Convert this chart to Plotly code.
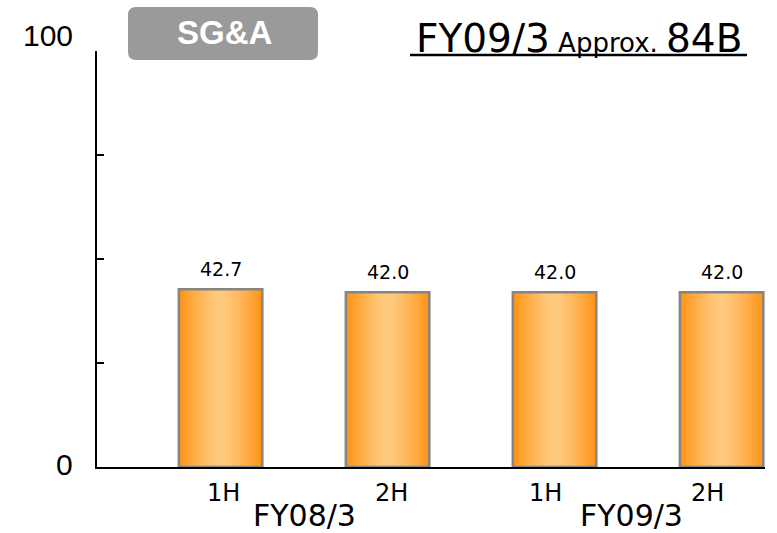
import plotly.graph_objects as go

# ---- data ----
categories = ["1H", "2H", "1H", "2H"]
values = [42.7, 42.0, 42.0, 42.0]
value_labels = ["42.7", "42.0", "42.0", "42.0"]
groups = ["FY08/3", "FY09/3"]
group_members = [[0, 1], [2, 3]]
y_tick_vals = [0, 25, 50, 75, 100]
y_tick_labels = {0: "0", 100: "100"}
box_title = "SG&A"
headline_parts = ["FY09/3", " Approx. ", "84B"]

# ---- layout constants (pixels) ----
W, H = 777, 533
L, R, T, B = 97, 12, 51, 66
PW, PH = W - L - R, H - T - B


def px_x(px):
    return (px - L) / PW


def px_y(py):
    return (H - B - py) / PH


x = list(range(len(values)))
fig = go.Figure()

# gradient bars built from overlaid layers of decreasing width
edge = (255, 148, 22)
center = (255, 203, 128)
N = 18
for k in range(N):
    d = 1 - k / N
    t = d ** 1.4
    c = tuple(round(center[i] + (edge[i] - center[i]) * t) for i in range(3))
    fig.add_trace(go.Bar(
        x=x, y=values, width=0.5 * d,
        marker=dict(color="rgb(%d,%d,%d)" % c, line=dict(width=0)),
        hoverinfo="skip", showlegend=False,
    ))
# outline
fig.add_trace(go.Bar(
    x=x, y=values, width=0.5,
    marker=dict(color="rgba(0,0,0,0)", line=dict(color="#858585", width=2.5)),
    hoverinfo="skip", showlegend=False,
))

ann = []
# value labels
for xi, v, s in zip(x, values, value_labels):
    ann.append(dict(x=xi, y=v, xref="x", yref="y", text=s, showarrow=False,
                    yshift=20, yanchor="middle",
                    font=dict(family="DejaVu Sans", size=19, color="black")))
# category labels
cat_xshift = [3, 4, -9, -14]
for xi, c, sh in zip(x, categories, cat_xshift):
    ann.append(dict(x=xi, y=0, xref="x", yref="y", text=c, showarrow=False,
                    yshift=-26, xshift=sh, yanchor="middle",
                    font=dict(family="DejaVu Sans", size=24, color="black")))
# group labels
grp_xshift = [0, -7]
for g, m, sh in zip(groups, group_members, grp_xshift):
    gx = sum(x[i] for i in m) / len(m)
    ann.append(dict(x=gx, y=0, xref="x", yref="y", text=g, showarrow=False,
                    yshift=-48, xshift=sh, yanchor="middle",
                    font=dict(family="DejaVu Sans", size=30, color="black")))
# y tick labels
for v, s in y_tick_labels.items():
    ann.append(dict(x=px_x(75), y=v, xref="paper", yref="y", text=s,
                    showarrow=False, xanchor="right", yanchor="middle",
                    yshift=(16 if v == 100 else 3),
                    font=dict(family="Liberation Sans", size=30, color="black")))
# box title
ann.append(dict(x=px_x(224), y=px_y(33), xref="paper", yref="paper",
                text="<b>%s</b>" % box_title, showarrow=False,
                xanchor="center", yanchor="middle",
                font=dict(family="Liberation Sans", size=33, color="white")))
# headline
ann.append(dict(x=px_x(578.5), y=px_y(38), xref="paper", yref="paper",
                text='%s<span style="font-size:26px">%s</span>%s' % tuple(headline_parts),
                showarrow=False, xanchor="center", yanchor="middle",
                font=dict(family="DejaVu Sans", size=39, color="black")))

# rounded box
x0, x1 = px_x(128), px_x(318)
y0, y1 = px_y(60), px_y(7)
rx, ry = 8 / PW, 8 / PH
path = ("M {a},{y0} L {b},{y0} Q {x1},{y0} {x1},{c} L {x1},{d} Q {x1},{y1} {b},{y1} "
        "L {a},{y1} Q {x0},{y1} {x0},{d} L {x0},{c} Q {x0},{y0} {a},{y0} Z").format(
    a=x0 + rx, b=x1 - rx, c=y0 + ry, d=y1 - ry, x0=x0, x1=x1, y0=y0, y1=y1)
shapes = [
    dict(type="path", path=path, xref="paper", yref="paper",
         fillcolor="#9a9a9a", line=dict(width=0), layer="above"),
    dict(type="line", xref="paper", yref="paper", x0=px_x(410), x1=px_x(747),
         y0=px_y(55), y1=px_y(55), line=dict(color="black", width=2.5)),
]

fig.update_layout(
    width=W, height=H,
    margin=dict(l=L, r=R, t=T, b=B),
    paper_bgcolor="white", plot_bgcolor="white",
    barmode="overlay",
    showlegend=False,
    hovermode=False,
    annotations=ann,
    shapes=shapes,
    xaxis=dict(range=[-0.74, 3.26], showgrid=False, zeroline=False,
               showline=True, linecolor="black", linewidth=2,
               showticklabels=False, ticks=""),
    yaxis=dict(range=[0, 100], showgrid=False, zeroline=False,
               showline=True, linecolor="black", linewidth=2,
               tickvals=y_tick_vals, ticks="inside", ticklen=7, tickwidth=2,
               tickcolor="black", showticklabels=False),
)

fig.write_html(
    "out.html",
    config={"displayModeBar": False},
    post_script="document.body.style.margin='0';document.body.style.overflow='hidden';",
)
